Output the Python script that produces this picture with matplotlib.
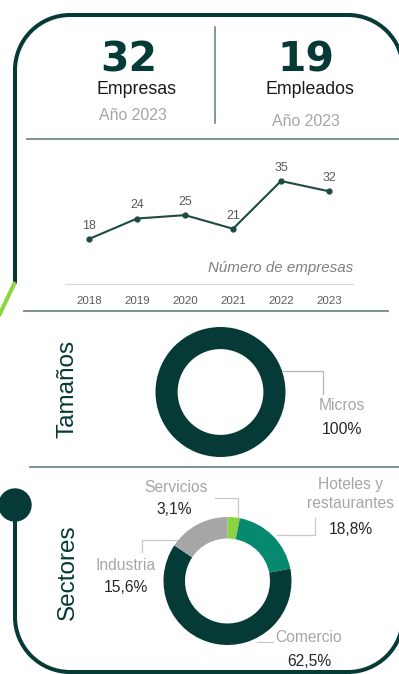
import matplotlib
matplotlib.use('Agg')
import matplotlib.pyplot as plt
from matplotlib import font_manager
from matplotlib.patches import Arc, Circle

# datos de la ficha
total_empresas = 32
total_empleados = 19
anio_corte = 2023

anios = [2018, 2019, 2020, 2021, 2022, 2023]
num_empresas = [18, 24, 25, 21, 35, 32]

tamanos = ['Micros']
tamanos_pct = [100]

sectores = ['Servicios', 'Hoteles y\nrestaurantes', 'Comercio', 'Industria']
sectores_pct = [3.1, 18.8, 62.5, 15.6]

# colores
VERDE_OSC = '#053a36'
TEAL = '#06896f'
GRIS = '#a6a6a6'
VERDE_CLARO = '#8cd43f'
LINEA = '#6c8c89'

names = {f.name for f in font_manager.fontManager.ttflist}
narrow = 'Liberation Sans Narrow' in names
base = 'Liberation Sans Narrow' if narrow else 'Liberation Sans'
k = 1.0 if narrow else 0.85  # la fuente normal es más ancha
plt.rcParams['font.family'] = [base, 'DejaVu Sans']

W, H = 399, 674
fig = plt.figure(figsize=(W / 100, H / 100), dpi=100)

# capa en pixeles para marco, separadores y textos
ax = fig.add_axes([0, 0, 1, 1])
ax.set_xlim(0, W)
ax.set_ylim(H, 0)
ax.axis('off')


def px_axes(left, top, width, height):
    return fig.add_axes([left / W, 1 - (top + height) / H, width / W, height / H])


# marco superior
lw_m = 2.9
r = 55
ax.plot([70, 348], [15, 15], color=VERDE_OSC, lw=lw_m, solid_capstyle='butt')
ax.add_patch(Arc((70, 70), 2 * r, 2 * r, theta1=180, theta2=270, color=VERDE_OSC, lw=lw_m))
ax.add_patch(Arc((348, 70), 2 * r, 2 * r, theta1=270, theta2=360, color=VERDE_OSC, lw=lw_m))
ax.plot([15, 15], [70, 284], color=VERDE_OSC, lw=lw_m, solid_capstyle='butt')
ax.plot([403, 403], [70, 300], color=VERDE_OSC, lw=lw_m)
ax.plot([15, -2], [282, 318], color=VERDE_CLARO, lw=lw_m, solid_capstyle='butt')

# marco inferior
ax.add_patch(Circle((15, 505), 16, color=VERDE_OSC))
ax.plot([15, 15], [505, 617], color=VERDE_OSC, lw=lw_m, solid_capstyle='butt')
ax.add_patch(Arc((70, 617), 2 * r, 2 * r, theta1=90, theta2=180, color=VERDE_OSC, lw=lw_m))
ax.add_patch(Arc((348, 617), 2 * r, 2 * r, theta1=0, theta2=90, color=VERDE_OSC, lw=lw_m))
ax.plot([70, 348], [672, 672], color=VERDE_OSC, lw=lw_m, solid_capstyle='butt')
ax.plot([403, 403], [617, 480], color=VERDE_OSC, lw=lw_m)

# separadores
ax.plot([215, 215], [27, 123], color='#5e7d7b', lw=1.1)
ax.plot([27, 399], [139, 139], color=LINEA, lw=1.3)
ax.plot([24, 388], [311, 311], color=LINEA, lw=1.3)
ax.plot([30, 399], [467, 467], color=LINEA, lw=1.3)

# cabecera
ax.text(129, 60, str(total_empresas), ha='center', va='center', fontsize=29.5,
        fontweight='bold', family='DejaVu Sans', color=VERDE_OSC)
ax.text(137, 89, 'Empresas', ha='center', va='center', fontsize=15 * k, color='#1a1a1a')
ax.text(133, 116, f'Año {anio_corte}', ha='center', va='center', fontsize=13.5 * k, color=GRIS)
ax.text(306, 61, str(total_empleados), ha='center', va='center', fontsize=29.5,
        fontweight='bold', family='DejaVu Sans', color=VERDE_OSC)
ax.text(310, 89, 'Empleados', ha='center', va='center', fontsize=15 * k, color='#1a1a1a')
ax.text(306, 121, f'Año {anio_corte}', ha='center', va='center', fontsize=13.5 * k, color=GRIS)

# serie de empresas
axl = px_axes(65, 165, 288, 119)
axl.plot(anios, num_empresas, color='#1e4a44', lw=1.5, marker='o', ms=3.5)
for a, v in zip(anios, num_empresas):
    axl.annotate(str(v), (a, v), xytext=(0, 9.5), textcoords='offset points',
                 ha='center', va='center', fontsize=10.5 * k, color='#595959')
axl.set_xlim(2017.5, 2023.5)
axl.set_ylim(4.8, 39.7)
axl.set_xticks(anios)
axl.set_xticklabels([str(a) for a in anios], fontsize=9.7 * k, color='#595959')
axl.tick_params(axis='x', length=0, pad=9)
axl.set_yticks([])
for s in ['top', 'right', 'left']:
    axl.spines[s].set_visible(False)
axl.spines['bottom'].set_color('#d9d9d9')
axl.spines['bottom'].set_linewidth(0.8)
axl.patch.set_alpha(0)
axl.text(1.0, 0.134, 'Número de empresas', transform=axl.transAxes, ha='right',
         va='center', fontsize=12.8 * k, style='italic', color='#808080')

# tamaños
ax.text(68, 389, 'Tamaños', rotation=90, ha='center', va='center', fontsize=20.5 * k, color=VERDE_OSC)
R1 = 65
axt = px_axes(220.5 - R1, 392 - R1, 2 * R1, 2 * R1)
axt.pie(tamanos_pct, colors=[VERDE_OSC], startangle=90, counterclock=False,
        wedgeprops=dict(width=0.34, linewidth=0))
axt.set_xlim(-1, 1)
axt.set_ylim(-1, 1)
ax.plot([283, 323, 323], [371, 371, 394], color='#b5b5b5', lw=0.9)
ax.text(342, 406, tamanos[0], ha='center', va='center', fontsize=13.4 * k, color=GRIS)
ax.text(342, 429, f'{tamanos_pct[0]}%', ha='center', va='center', fontsize=13.4 * k, color='#262626')

# sectores
ax.text(68, 572, 'Sectores', rotation=90, ha='center', va='center', fontsize=20.5 * k, color=VERDE_OSC)
R2 = 64
axs = px_axes(227.5 - R2, 581 - R2, 2 * R2, 2 * R2)
axs.pie(sectores_pct, colors=[VERDE_CLARO, TEAL, VERDE_OSC, GRIS], startangle=90,
        counterclock=False, wedgeprops=dict(width=0.336, linewidth=0))
axs.set_xlim(-1, 1)
axs.set_ylim(-1, 1)

lider = '#c8c8c8'
ax.plot([215, 238, 238], [498, 498, 520], color=lider, lw=0.9)
ax.plot([277, 315, 315], [535, 535, 518], color=lider, lw=0.9)
ax.plot([177, 142, 142], [540, 540, 552], color=lider, lw=0.9)
ax.plot([257, 273], [642, 642], color=lider, lw=0.9)

pos_etq = [(176, 487), (351, 494), (309, 638), (126, 565)]
pos_pct = [(174, 509), (351, 529), (309, 661), (126, 588)]
for nom, pct, (xe, ye), (xp, yp) in zip(sectores, sectores_pct, pos_etq, pos_pct):
    ax.text(xe, ye, nom, ha='center', va='center', fontsize=13.2 * k, color=GRIS,
            linespacing=1.35)
    ax.text(xp, yp, f'{pct:.1f}%'.replace('.', ','), ha='center', va='center',
            fontsize=13.2 * k, color='#262626')

fig.savefig('out.png', dpi=100)
